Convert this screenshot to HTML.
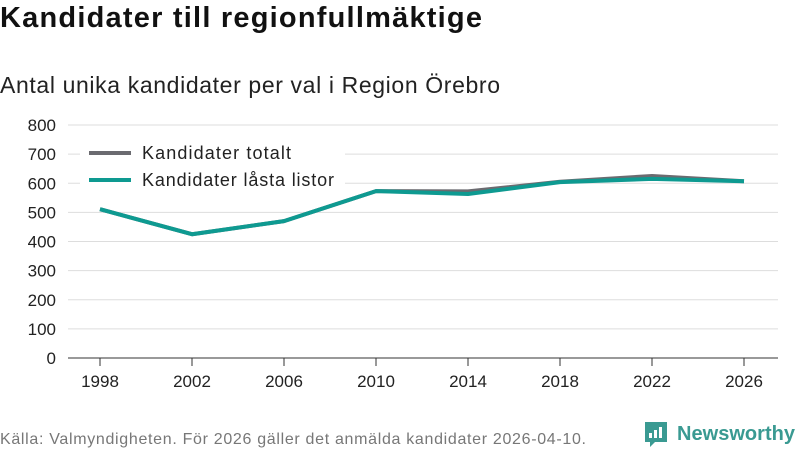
<!DOCTYPE html>
<html><head><meta charset="utf-8"><style>
body{margin:0;background:#fff;width:800px;height:450px;overflow:hidden;font-family:"Liberation Sans",sans-serif;}
svg text{font-family:"Liberation Sans",sans-serif;}
</style></head><body>
<svg width="800" height="450">
<text x="0" y="27" font-size="29" font-weight="bold" fill="#111" textLength="482">Kandidater till regionfullmäktige</text>
<text x="0" y="93" font-size="23" fill="#222" textLength="500">Antal unika kandidater per val i Region Örebro</text>
<g id="grid"></g><g id="xaxis"></g><g id="lines"></g>
<g>
<rect x="80" y="138" width="265" height="58" fill="#fff"/>
<line x1="89" y1="153" x2="131" y2="153" stroke="#6b6b70" stroke-width="4"/>
<text x="142" y="159" font-size="18" fill="#222" textLength="149">Kandidater totalt</text>
<line x1="89" y1="180" x2="131" y2="180" stroke="#0e9a91" stroke-width="4"/>
<text x="142" y="186" font-size="18" fill="#222" textLength="192">Kandidater låsta listor</text>
</g>
<text x="0" y="444" font-size="16" fill="#777" textLength="586">Källa: Valmyndigheten. För 2026 gäller det anmälda kandidater 2026-04-10.</text>
<g>
<path d="M645 422 h22 v20 h-12 l-5 5 v-5 h-5 z" fill="#3a9a92"/>
<rect x="649" y="433" width="3" height="5" fill="#fff"/><rect x="654" y="430" width="3" height="8" fill="#fff"/><rect x="659" y="427" width="3" height="11" fill="#fff"/>
<text x="677" y="440" font-size="20" fill="#3a9a92" font-weight="bold" textLength="118">Newsworthy</text>
</g>
</svg>
<script>
const years=[1998,2002,2006,2010,2014,2018,2022,2026];
const totalt=[511,425,470,573,572,605,625,607];
const lasta=[511,425,470,573,563,604,615,607];
const yTicks=[0,100,200,300,400,500,600,700,800];
const NS="http://www.w3.org/2000/svg";
const x=v=>100+(v-1998)*(644/28);
const y=v=>358-v*(233/800);
function mk(t,a,p){const e=document.createElementNS(NS,t);for(const k in a)e.setAttribute(k,a[k]);p.appendChild(e);return e;}
const grid=document.getElementById('grid');
yTicks.forEach(t=>{
 const l=mk('line',{x1:68,x2:778,y1:y(t),y2:y(t),stroke:t===0?'#333':'#ddd','stroke-width':1},grid);
 
 
 const tx=mk('text',{x:56,y:y(t)+6,'font-size':17,fill:'#222','text-anchor':'end'},grid);
 tx.textContent=t;
 
 
});
const xa=document.getElementById('xaxis');
years.forEach(yr=>{
 const l=mk('line',{x1:x(yr),x2:x(yr),y1:358,y2:366,stroke:'#333'},xa);
 
 
 const tx=mk('text',{x:x(yr),y:387,'font-size':17,fill:'#222','text-anchor':'middle'},xa);
 tx.textContent=yr;
 
 
});
const lg=document.getElementById('lines');
[[totalt,'#6b6b70','line-totalt'],[lasta,'#0e9a91','line-lasta']].forEach(([d,c,n])=>{
 const p=mk('polyline',{points:d.map((v,i)=>x(years[i])+','+y(v)).join(' '),fill:'none',stroke:c,'stroke-width':4,'stroke-linejoin':'round'},lg);
 
 
});
</script>
</body></html>
